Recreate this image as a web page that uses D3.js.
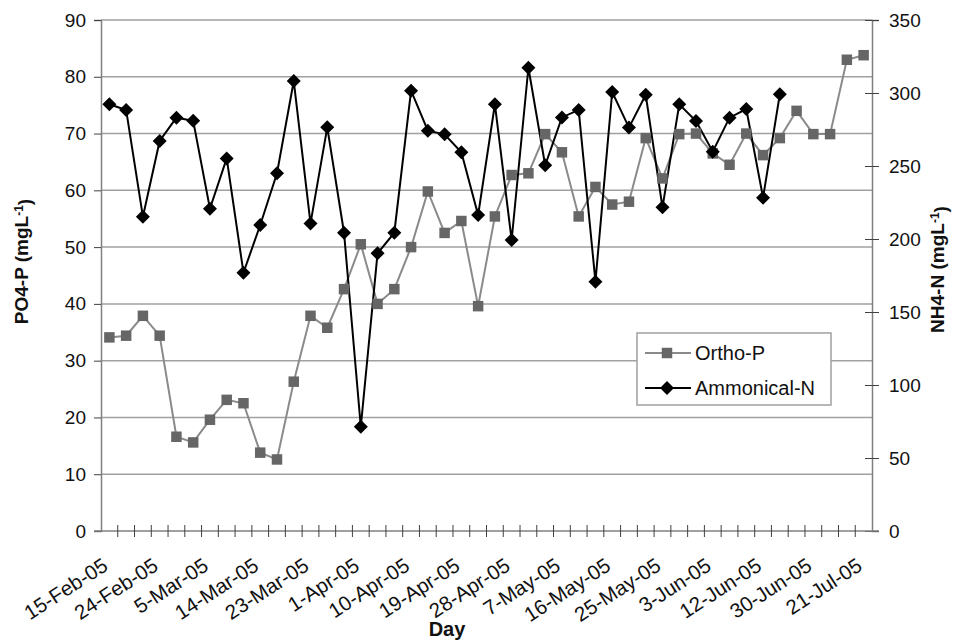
<!DOCTYPE html>
<html>
<head>
<meta charset="utf-8">
<script src="https://cdn.jsdelivr.net/npm/d3@7"></script>
<style>
  body { margin: 0; background: #fff; }
  svg { font-family: "Liberation Sans", Arial, sans-serif; }
</style>
</head>
<body>
<svg id="chart" width="953" height="640"></svg>
<script>
// Sampling days (every third day gets a label)
const days = ["15-Feb-05","18-Feb-05","21-Feb-05","24-Feb-05","27-Feb-05","2-Mar-05","5-Mar-05","8-Mar-05",
  "11-Mar-05","14-Mar-05","17-Mar-05","20-Mar-05","23-Mar-05","26-Mar-05","29-Mar-05","1-Apr-05","4-Apr-05",
  "7-Apr-05","10-Apr-05","13-Apr-05","16-Apr-05","19-Apr-05","22-Apr-05","25-Apr-05","28-Apr-05","1-May-05",
  "4-May-05","7-May-05","10-May-05","13-May-05","16-May-05","19-May-05","22-May-05","25-May-05","28-May-05",
  "31-May-05","3-Jun-05","6-Jun-05","9-Jun-05","12-Jun-05","18-Jun-05","24-Jun-05","30-Jun-05","7-Jul-05",
  "14-Jul-05","21-Jul-05"];

// Ortho-P, left axis (mg/L)
const orthoP = [34.1, 34.4, 37.9, 34.4, 16.6, 15.6, 19.6, 23.1, 22.5, 13.8, 12.6, 26.3, 37.9, 35.8, 42.6, 50.5,
  40.0, 42.6, 50.0, 59.8, 52.5, 54.6, 39.6, 55.4, 62.7, 63.0, 69.9, 66.7, 55.4, 60.6, 57.5, 58.0, 69.2, 62.1,
  69.9, 70.0, 66.5, 64.5, 70.0, 66.2, 69.2, 74.0, 69.9, 69.9, 83.0, 83.8];

// Ammonical-N, right axis (mg/L)
const ammonN = [292.3, 288.4, 215.3, 267.1, 283.1, 281.0, 220.8, 255.2, 176.9, 209.6, 245.0, 308.2, 210.7,
  276.5, 204.3, 71.4, 190.2, 204.3, 301.6, 274.2, 271.7, 259.4, 216.4, 292.3, 199.3, 317.3, 250.5, 283.3,
  288.4, 170.8, 300.7, 276.3, 298.8, 221.7, 292.3, 280.8, 259.8, 283.1, 289.0, 228.3, 299.1];

const leftTicks = [0, 10, 20, 30, 40, 50, 60, 70, 80, 90];
const rightTicks = [0, 50, 100, 150, 200, 250, 300, 350];

const svg = d3.select("#chart");
const margin = { top: 20, right: 81, bottom: 109, left: 101 };
const width = 953, height = 640;

const x = d3.scaleBand().domain(days).range([margin.left, width - margin.right]).padding(0);
const yL = d3.scaleLinear().domain([0, 90]).range([height - margin.bottom, margin.top]);
const yR = d3.scaleLinear().domain([0, 350]).range([height - margin.bottom, margin.top]);
const cx = d => x(d) + x.bandwidth() / 2;

const gridColor = "#a0a0a0";
const axisColor = "#808080";

// gridlines
svg.append("g")
  .selectAll("line")
  .data(leftTicks.filter(t => t > 0))
  .enter().append("line")
  .attr("x1", margin.left).attr("x2", width - margin.right)
  .attr("y1", d => yL(d)).attr("y2", d => yL(d))
  .attr("stroke", gridColor).attr("stroke-width", 1.5);

// left axis
const leftAxis = svg.append("g")
  .attr("transform", `translate(${margin.left},0)`)
  .call(d3.axisLeft(yL).tickValues(leftTicks).tickSize(7).tickPadding(8));

// right axis
const rightAxis = svg.append("g")
  .attr("transform", `translate(${width - margin.right},0)`)
  .call(d3.axisRight(yR).tickValues(rightTicks).tickSize(7).tickPadding(10));
rightAxis.selectAll(".tick line").attr("x1", -7);

// bottom axis: ticks at category boundaries
const bottom = svg.append("g").attr("transform", `translate(0,${yL(0)})`);
bottom.append("line")
  .attr("x1", margin.left - 7).attr("x2", width - margin.right + 7)
  .attr("stroke", axisColor).attr("stroke-width", 1.5);
bottom.selectAll(".xt")
  .data(days.slice(1))
  .enter().append("line")
  .attr("class", "xt")
  .attr("x1", d => x(d)).attr("x2", d => x(d))
  .attr("y1", -6).attr("y2", 6)
  .attr("stroke", "#404040").attr("stroke-width", 1);

bottom.selectAll(".xl")
  .data(days.filter((d, i) => i % 3 === 0))
  .enter().append("text")
  .attr("class", "xl")
  .attr("transform", d => `translate(${cx(d) - 4},${32}) rotate(-33)`)
  .attr("text-anchor", "end")
  .attr("dy", "0.35em")
  .attr("font-size", 20.5)
  .attr("fill", "#111")
  .text(d => d);

[leftAxis, rightAxis].forEach(g => {
  g.select(".domain").attr("stroke", axisColor).attr("stroke-width", 1.5);
  g.selectAll(".tick line").attr("stroke", "#404040");
  g.selectAll(".tick text").attr("font-size", 19).attr("fill", "#111")
    .attr("font-family", "Liberation Sans, Arial, sans-serif");
});

// lines
const lineL = d3.line().x((d, i) => cx(days[i])).y(d => yL(d));
const lineR = d3.line().x((d, i) => cx(days[i])).y(d => yR(d));

svg.append("path").datum(orthoP)
  .attr("fill", "none").attr("stroke", "#8a8a8a").attr("stroke-width", 2)
  .attr("d", lineL);
svg.append("path").datum(ammonN)
  .attr("fill", "none").attr("stroke", "#000").attr("stroke-width", 2)
  .attr("d", lineR);

// Excel-like square diamond
const squareDiamond = {
  draw(context, size) {
    const r = Math.sqrt(size / 2);
    context.moveTo(0, -r);
    context.lineTo(r, 0);
    context.lineTo(0, r);
    context.lineTo(-r, 0);
    context.closePath();
  }
};
const square = d3.symbol().type(d3.symbolSquare).size(110);
const diamond = d3.symbol().type(squareDiamond).size(98);

svg.append("g").selectAll("path")
  .data(orthoP)
  .enter().append("path")
  .attr("transform", (d, i) => `translate(${cx(days[i])},${yL(d)})`)
  .attr("d", square)
  .attr("fill", "#666");

svg.append("g").selectAll("path")
  .data(ammonN)
  .enter().append("path")
  .attr("transform", (d, i) => `translate(${cx(days[i])},${yR(d)})`)
  .attr("d", diamond)
  .attr("fill", "#000");

// legend
const legend = svg.append("g").attr("transform", "translate(637,333)");
legend.append("rect")
  .attr("width", 194).attr("height", 72)
  .attr("fill", "#fff").attr("stroke", "#a0a0a0").attr("stroke-width", 1.5);
const items = [
  { name: "Ortho-P", color: "#8a8a8a", fill: "#666", sym: square, y: 20 },
  { name: "Ammonical-N", color: "#000", fill: "#000", sym: diamond, y: 55 }
];
items.forEach(it => {
  legend.append("line").attr("x1", 8).attr("x2", 54).attr("y1", it.y).attr("y2", it.y)
    .attr("stroke", it.color).attr("stroke-width", 2);
  legend.append("path").attr("transform", `translate(30,${it.y})`).attr("d", it.sym).attr("fill", it.fill);
  legend.append("text").attr("x", 58).attr("y", it.y).attr("dy", "0.36em")
    .attr("font-size", 20).attr("fill", "#111").text(it.name);
});

// axis titles
const leftTitle = svg.append("text")
  .attr("transform", `translate(28,${(margin.top + yL(0)) / 2 - 14}) rotate(-90)`)
  .attr("text-anchor", "middle").attr("font-weight", "bold").attr("font-size", 19).attr("fill", "#111");
leftTitle.append("tspan").text("PO4-P (mgL");
leftTitle.append("tspan").attr("dy", "-0.45em").attr("font-size", 12).text("-1");
leftTitle.append("tspan").attr("dy", "0.45em").text(")");

const rightTitle = svg.append("text")
  .attr("transform", `translate(944,${(margin.top + yL(0)) / 2 - 6}) rotate(-90)`)
  .attr("text-anchor", "middle").attr("font-weight", "bold").attr("font-size", 19).attr("fill", "#111");
rightTitle.append("tspan").text("NH4-N (mgL");
rightTitle.append("tspan").attr("dy", "-0.45em").attr("font-size", 12).text("-1");
rightTitle.append("tspan").attr("dy", "0.45em").text(")");

svg.append("text")
  .attr("x", 447).attr("y", 636)
  .attr("text-anchor", "middle").attr("font-weight", "bold").attr("font-size", 20).attr("fill", "#111")
  .text("Day");
</script>
</body>
</html>
